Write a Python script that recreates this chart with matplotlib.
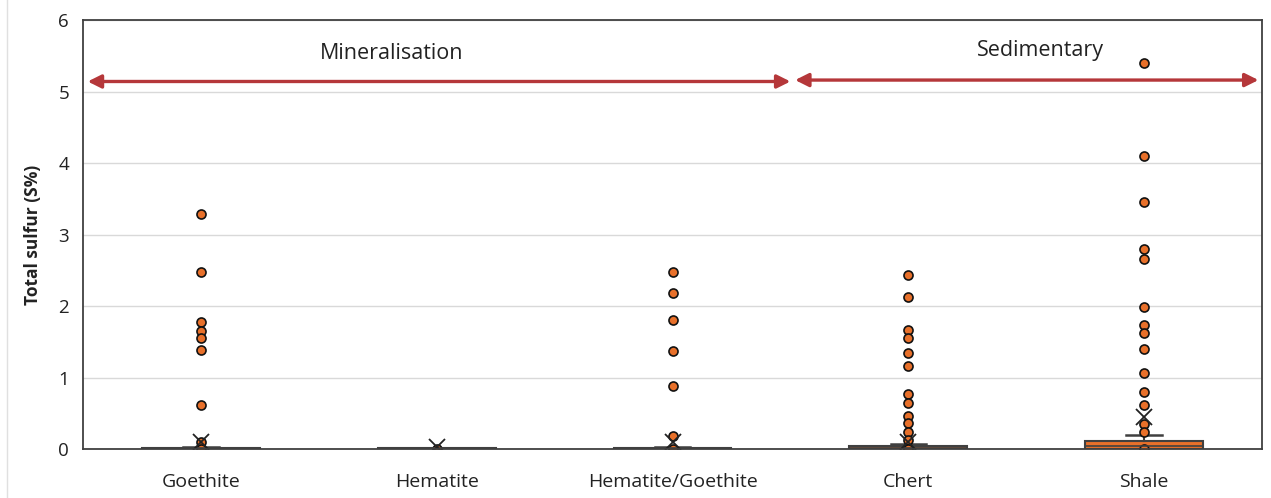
import matplotlib
matplotlib.use("Agg")
import matplotlib.pyplot as plt
from matplotlib.lines import Line2D

categories = ["Goethite", "Hematite", "Hematite/Goethite", "Chert", "Shale"]
q1 = [0.0, 0.0, 0.0, 0.0, 0.0]
median = [0.01, 0.01, 0.01, 0.02, 0.04]
q3 = [0.02, 0.02, 0.02, 0.04, 0.11]
whisker_lo = [0.0, 0.0, 0.0, 0.0, 0.0]
whisker_hi = [0.03, 0.02, 0.03, 0.07, 0.2]
means = [0.1, 0.03, 0.1, 0.1, 0.45]
outliers = [
    [3.28, 2.47, 1.77, 1.65, 1.55, 1.38, 0.61, 0.1, 0.0],
    [0.0],
    [2.47, 2.18, 1.81, 1.37, 0.88, 0.18, 0.0],
    [2.44, 2.12, 1.67, 1.55, 1.34, 1.16, 0.77, 0.65, 0.46, 0.36, 0.24, 0.12, 0.0],
    [5.40, 4.10, 3.46, 2.80, 2.66, 1.98, 1.73, 1.62, 1.40, 1.06, 0.80, 0.62, 0.35, 0.24, 0.0],
]
groups = [("Mineralisation", -0.48, 2.50, 5.14, 0.81, 5.53),
          ("Sedimentary", 2.52, 4.485, 5.16, 3.56, 5.57)]

W, H = 1271, 498
fig = plt.figure(figsize=(W / 100, H / 100), dpi=100)
ax = fig.add_axes([83 / W, 1 - 449 / H, (1262 - 83) / W, (449 - 20) / H])

stats = []
for i, c in enumerate(categories):
    stats.append(dict(label=c, q1=q1[i], med=median[i], q3=q3[i],
                      whislo=whisker_lo[i], whishi=whisker_hi[i],
                      mean=means[i], fliers=outliers[i]))

edge = "#404040"
orange = "#E8702A"
ax.bxp(stats, positions=range(len(categories)), widths=0.5, patch_artist=True,
       showmeans=True, showfliers=True,
       boxprops=dict(facecolor=orange, edgecolor=edge, linewidth=1.5),
       medianprops=dict(color=edge, linewidth=1.2),
       whiskerprops=dict(color=edge, linewidth=1.5),
       capprops=dict(color=edge, linewidth=1.8),
       capwidths=0.15,
       meanprops=dict(marker="x", markeredgecolor="#222222", markersize=11, markeredgewidth=1.3),
       flierprops=dict(marker="o", markerfacecolor=orange, markeredgecolor="#111111",
                       markersize=6.5, markeredgewidth=1.2))

ax.set_xlim(-0.5, 4.5)
ax.set_ylim(0, 6)
ax.set_yticks(range(0, 7))
ax.tick_params(axis="x", length=0, labelsize=14, colors="#222222", pad=17)
ax.tick_params(axis="y", length=0, labelsize=13.5, colors="#222222", pad=10)
for lab in ax.get_xticklabels() + ax.get_yticklabels():
    lab.set_fontfamily("Open Sans")
ax.yaxis.grid(True, color="#D9D9D9", linewidth=1)
ax.set_axisbelow(True)
for s in ax.spines.values():
    s.set_color("#404040")
    s.set_linewidth(1.3)
ax.set_ylabel("Total sulfur (S%)", fontsize=12.5, fontweight="bold", family="Open Sans",
              color="#222222", labelpad=12)

red = "#B5373A"
for name, x0, x1, y, tx, ty in groups:
    ax.annotate("", xy=(x0, y), xytext=(x1, y),
                arrowprops=dict(arrowstyle="<|-|>", color=red, lw=2.4,
                                mutation_scale=20, shrinkA=0, shrinkB=0))
    ax.text(tx, ty, name, ha="center", va="center", fontsize=15.5,
            family="Open Sans", color="#222222")

fig.add_artist(Line2D([7 / W, 7 / W], [0.0, 1.0], color="#E0E0E0", lw=1,
                      transform=fig.transFigure))

fig.savefig("out.png", dpi=100, facecolor="white")
